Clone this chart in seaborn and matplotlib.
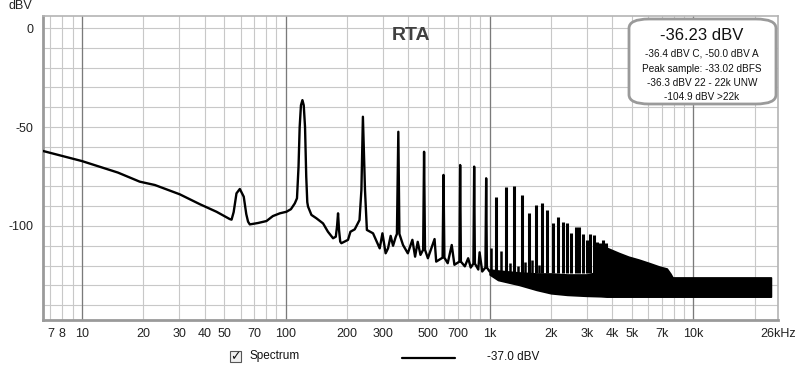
import numpy as np
import matplotlib
matplotlib.use("Agg")
import matplotlib.pyplot as plt
import seaborn as sns
from matplotlib.ticker import LogLocator, FixedLocator, NullFormatter
from matplotlib.patches import FancyBboxPatch, Rectangle
from matplotlib.lines import Line2D

# spectrum trace (Hz, dBV), up to ~1 kHz
trace_hz = [6.44, 10, 15, 19.2, 22.8, 30.2, 37.9, 45.7, 53.1, 54.2, 55.5, 57.3, 59.5, 62.2, 64, 65.3,
            66.6, 73, 80.4, 86.4, 93.5, 100.8, 106, 110.7, 113.5, 115.5, 117, 118.7, 120.7, 122.5,
            124.3, 126, 127.5, 128.6, 133.6, 141.3, 152.4, 161, 170.6, 176, 178.5, 180.5, 182.5,
            185, 187.4, 202, 207.6, 217.9, 230, 235, 239, 244.7, 250, 268, 289, 298, 309, 317.5,
            327, 336, 346, 351, 356.6, 361, 376, 397, 418, 431, 444, 458, 472, 477, 482, 498, 537,
            547, 588, 594, 600, 623, 652, 672, 711, 717, 723, 756, 785, 808, 833, 840, 847, 880,
            893, 920, 954, 962, 970, 1000]
trace_db = [-62.1, -67.2, -73, -77.6, -79.3, -84, -89, -92.8, -96.5, -96.8, -93, -83.5, -81.3, -85.2,
            -94, -97.8, -99.2, -98.5, -97.5, -95, -93.6, -92.8, -91.5, -88.6, -86, -70, -50, -39,
            -36.4, -39, -50, -75, -88, -90.2, -94.4, -96.1, -98.7, -102.9, -106.2, -105.4, -100,
            -93.6, -102, -107.9, -108.7, -107, -102.9, -101.7, -97, -81.8, -44.8, -81.8, -102,
            -103.7, -111.3, -103.7, -113.8, -111.3, -105, -110, -105.6, -104, -52.4, -104, -109.6,
            -113.8, -107, -115.5, -108, -114.6, -112, -62.5, -112, -116.3, -106.6, -118, -116,
            -74.2, -116, -118.8, -109.6, -119.6, -118, -69.2, -118, -120.4, -116.3, -121, -119,
            -70, -119, -122, -113.3, -123, -121, -75.9, -121, -123]

# harmonic spikes above 1 kHz
harm_hz = [1080, 1200, 1320, 1440, 1560, 1680, 1800, 1920, 2040, 2160, 2280, 2400, 2520, 2640,
           2760, 2880, 3000, 3120, 3240, 3360, 3480, 3600, 3720]
harm_db = [-85.2, -80.1, -79.8, -84.3, -93.6, -89.4, -88.6, -91.9, -98.7, -95.3, -97.8, -98.3,
           -103.7, -100.3, -100.3, -104, -107, -104.2, -104.5, -108.2, -108.8, -107, -108.8]
side_hz = [1020, 1140, 1260, 1380, 1500, 1620, 1740]
side_db = [-111.3, -112.6, -118.9, -120, -118, -117.2, -119.7]

# noise band envelope
band_hz = [1000, 1100, 1400, 1700, 2000, 2400, 3000, 3500, 3750, 4300, 4800, 5400, 6100, 6800,
           7400, 7700, 7900, 10000, 24000]
band_top = [-122, -122.5, -123.5, -124, -124, -124.5, -124.5, -123, -111, -113.6, -115.5, -117,
            -118.8, -120.5, -121.5, -124, -126, -126, -126]
band_bot = [-124.5, -127.3, -129.8, -132.3, -134, -134.8, -135.3, -135.5, -135.7, -135.7, -135.7,
            -135.7, -135.7, -135.7, -135.7, -135.7, -135.7, -135.7, -135.7]

xtick_hz = [7, 8, 10, 20, 30, 40, 50, 70, 100, 200, 300, 500, 700, 1000, 2000, 3000, 4000,
            5000, 7000, 10000, 26000]
xtick_labels = ["7", "8", "10", "20", "30", "40", "50", "70", "100", "200", "300", "500", "700",
                "1k", "2k", "3k", "4k", "5k", "7k", "10k", "26kHz"]
ytick_db = list(range(-140, 1, 10))

info_lines = ["-36.4 dBV C, -50.0 dBV A", "Peak sample: -33.02 dBFS",
              "-36.3 dBV 22 - 22k UNW", "-104.9 dBV >22k"]

sns.set_style("white")
plt.rcParams['font.family'] = ['Liberation Sans', 'DejaVu Sans']

W, H = 800, 372
fig = plt.figure(figsize=(8, 3.72), dpi=100)
ax = fig.add_axes([43 / W, 1 - 320 / H, (778 - 43) / W, (320 - 16) / H])

ax.set_xscale('log')
ax.set_xlim(6.44, 26000)
ax.set_ylim(-147.5, 6.1)

# grid
ax.xaxis.set_major_locator(FixedLocator(xtick_hz))
ax.set_xticklabels(xtick_labels)
ax.xaxis.set_minor_locator(LogLocator(base=10, subs=np.arange(1, 10), numticks=20))
ax.xaxis.set_minor_formatter(NullFormatter())
ax.xaxis.remove_overlapping_locs = False
ax.grid(which='minor', axis='x', color='#c8c8c8', lw=0.8)
ax.grid(which='major', axis='x', visible=False)
for d in [10, 100, 1000, 10000]:
    ax.axvline(d, color='#7a7a7a', lw=0.9, zorder=1)
ax.set_yticks(ytick_db)
ax.set_yticklabels([str(v) if v % 50 == 0 else "" for v in ytick_db])
ax.grid(which='major', axis='y', color='#c8c8c8', lw=0.8)
ax.set_axisbelow(True)

ax.tick_params(axis='both', which='both', length=0, labelsize=9, colors='#222222')
ax.tick_params(axis='x', pad=6)
ax.tick_params(axis='y', pad=7)

for s in ax.spines.values():
    s.set_color('#b4b4b4')
    s.set_linewidth(1.2)
ax.spines['left'].set_color('#9a9a9a')
ax.spines['left'].set_linewidth(2)
ax.spines['bottom'].set_color('#9a9a9a')
ax.spines['bottom'].set_linewidth(2)

# spectrum
ax.fill_between(band_hz, band_bot, band_top, color='black', lw=1.2, zorder=3)
ax.vlines(harm_hz, -124, harm_db, color='black', lw=2.2, zorder=3)
ax.vlines(side_hz, -124, side_db, color='black', lw=1.8, zorder=3)
sns.lineplot(x=trace_hz, y=trace_db, ax=ax, sort=False, estimator=None,
             color='black', lw=1.7, zorder=4)

# labels
fig.text(20 / W, 1 - 6 / H, "dBV", ha='center', va='center', fontsize=9, color='#222222')
fig.text(411 / W, 1 - 35 / H, "RTA", ha='center', va='center', fontsize=14,
         fontweight='bold', color='#404040')

# info box
box = FancyBboxPatch((629 / W, 1 - 104 / H), (776 - 629) / W, (104 - 19) / H,
                     boxstyle="round,pad=0,rounding_size=0.025", transform=fig.transFigure,
                     facecolor='white', edgecolor='#9a9a9a', lw=2, zorder=5)
fig.patches.append(box)
fig.text(702 / W, 1 - 35 / H, "-36.23 dBV", ha='center', va='center', fontsize=12,
         color='#111111', zorder=6)
for yy, line in zip([53, 68.5, 83, 97], info_lines):
    fig.text(702 / W, 1 - yy / H, line, ha='center', va='center', fontsize=7.2,
             color='#111111', zorder=6)

# legend row
cb = Rectangle((230 / W, 1 - 362 / H), 11 / W, 11 / H, transform=fig.transFigure,
               facecolor='#f0f0f0', edgecolor='#555555', lw=0.8)
fig.patches.append(cb)
fig.text(235.5 / W, 1 - 356.5 / H, "\u2713", ha='center', va='center', fontsize=9,
         fontweight='bold', family=['DejaVu Sans'], color='#111111')
fig.text(249 / W, 1 - 356 / H, "Spectrum", ha='left', va='center', fontsize=8.5,
         color='#111111')
fig.lines.append(Line2D([402 / W, 455 / W], [1 - 358 / H, 1 - 358 / H],
                        transform=fig.transFigure, color='black', lw=1.6))
fig.text(487 / W, 1 - 357 / H, "-37.0 dBV", ha='left', va='center', fontsize=8.5,
         color='#111111')

fig.savefig("out.png", dpi=100)
